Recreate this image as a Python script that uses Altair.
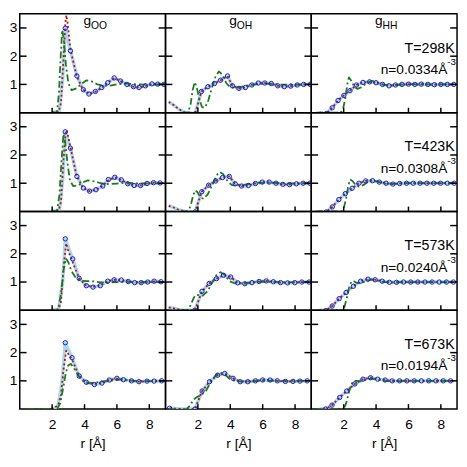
import altair as alt
import pandas as pd

# ---------------- axes / labels ----------------
X_DOMAIN = [0, 9]
Y_DOMAIN = [0, 3.5]
X_TICKS = [2, 4, 6, 8]
Y_TICKS = [1, 2, 3]
PAIRS = ["OO", "OH", "HH"]
TEMPS = ["298K", "423K", "573K", "673K"]
DENSITIES = ["0.0334", "0.0308", "0.0240", "0.0194"]
X_TITLE = "r [Å]"

# ---------------- data (r [Å], g) ----------------
# PRE_*: extra points of the light-blue experimental line, EXP_*: circles,
# RED_*: red dotted model, GRN_*: green dash-dot model
# ---- 298 K ----
PRE_OO_298 = [(2.0, 0.0), (2.45, 0.05), (2.65, 1.2)]
EXP_OO_298 = [(2.81, 2.99), (3.13, 2.19), (3.53, 1.30), (3.93, 0.81), (4.27, 0.66), (4.67, 0.75),
              (5.07, 0.89), (5.43, 1.06), (5.83, 1.23), (6.23, 1.12), (6.62, 1.00), (7.02, 0.92),
              (7.36, 0.89), (7.76, 0.95), (8.16, 1.02), (8.52, 1.01), (8.9, 1.0)]
RED_OO_298 = [(2.0, 0.0), (2.4, 0.03), (2.55, 0.35), (2.7, 1.9), (2.82, 3.2), (2.88, 3.45), (2.95, 3.2),
              (3.13, 2.25), (3.5, 1.32), (3.9, 0.82), (4.3, 0.66), (4.7, 0.75), (5.1, 0.9), (5.45, 1.07),
              (5.85, 1.22), (6.2, 1.13), (6.6, 1.0), (7.0, 0.92), (7.4, 0.89), (7.8, 0.95), (8.2, 1.02),
              (8.6, 1.02), (9.0, 1.0)]
GRN_OO_298 = [(2.0, 0.0), (2.3, 0.02), (2.42, 0.7), (2.52, 1.9), (2.62, 2.93), (2.72, 2.6), (2.85, 1.7),
              (3.0, 1.05), (3.2, 0.8), (3.5, 0.86), (3.8, 1.02), (4.1, 1.14), (4.4, 1.12), (4.8, 1.0),
              (5.2, 0.95), (5.6, 0.96), (6.1, 1.01), (6.6, 1.03), (7.2, 1.0), (8.0, 0.99), (9.0, 1.0)]

PRE_OH_298 = [(0.2, 0.38), (0.5, 0.27), (0.8, 0.13), (1.15, 0.02), (1.5, 0.0)]
EXP_OH_298 = [(1.82, -0.05), (2.22, 0.75), (2.62, 0.92), (3.02, 1.03), (3.4, 1.15), (3.83, 1.3),
              (4.13, 0.95), (4.53, 0.86), (4.93, 0.89), (5.33, 0.98), (5.73, 1.05), (6.13, 1.05),
              (6.53, 1.03), (6.93, 0.95), (7.33, 0.92), (7.73, 0.94), (8.13, 0.98), (8.53, 1.0), (8.93, 1.0)]
GRN_OH_298 = [(1.0, 0.0), (1.4, 0.0), (1.55, 0.3), (1.68, 0.8), (1.8, 1.08), (1.92, 0.92), (2.08, 0.5),
              (2.25, 0.2), (2.4, 0.17), (2.6, 0.35), (2.85, 0.85), (3.1, 1.3), (3.3, 1.46), (3.5, 1.35),
              (3.75, 1.05), (4.0, 0.9), (4.3, 0.88), (4.7, 0.92), (5.2, 0.98), (5.8, 1.02), (6.5, 1.02),
              (7.2, 0.99), (8.0, 0.99), (9.0, 1.0)]

PRE_HH_298 = [(0.5, 0.0)]
EXP_HH_298 = [(0.94, -0.03), (1.29, 0.17), (1.65, 0.43), (2.01, 0.61), (2.39, 0.78), (2.79, 0.98),
              (3.19, 1.07), (3.6, 1.09), (4.0, 1.06), (4.4, 1.0), (4.8, 0.95), (5.2, 0.98), (5.6, 1.0),
              (6.0, 1.01), (6.4, 1.0), (6.8, 1.01), (7.2, 1.0), (7.6, 0.99), (8.0, 1.0), (8.4, 1.0), (8.8, 1.0)]
GRN_HH_298 = [(0.3, 0.0), (1.8, 0.0), (1.95, 0.1), (2.1, 0.5), (2.22, 1.0), (2.32, 1.25), (2.45, 1.15),
              (2.65, 0.92), (2.85, 0.84), (3.1, 0.9), (3.4, 1.04), (3.75, 1.13), (4.1, 1.06), (4.5, 0.98),
              (5.0, 0.97), (5.5, 0.99), (6.2, 1.01), (7.0, 1.0), (9.0, 1.0)]

# ---- 423 K ----
PRE_OO_423 = [(2.0, 0.0), (2.45, 0.05), (2.65, 1.1)]
EXP_OO_423 = [(2.81, 2.82), (3.13, 2.24), (3.53, 1.24), (3.93, 0.83), (4.31, 0.72), (4.71, 0.77),
              (5.13, 0.9), (5.47, 1.13), (5.87, 1.21), (6.27, 1.12), (6.67, 0.98), (7.06, 0.92),
              (7.46, 0.92), (7.86, 0.99), (8.26, 1.02), (8.66, 1.01)]
RED_OO_423 = [(2.0, 0.0), (2.4, 0.03), (2.55, 0.35), (2.7, 1.8), (2.82, 2.7), (2.88, 2.88), (2.96, 2.75),
              (3.13, 2.28), (3.5, 1.28), (3.9, 0.84), (4.3, 0.72), (4.7, 0.77), (5.1, 0.9), (5.5, 1.12),
              (5.9, 1.2), (6.3, 1.11), (6.7, 0.98), (7.1, 0.92), (7.5, 0.92), (7.9, 0.99), (8.3, 1.02),
              (8.7, 1.01), (9.0, 1.0)]
GRN_OO_423 = [(2.0, 0.0), (2.3, 0.02), (2.45, 0.6), (2.58, 1.8), (2.7, 2.75), (2.8, 2.5), (2.95, 1.7),
              (3.1, 1.1), (3.3, 0.9), (3.6, 0.92), (3.9, 1.03), (4.2, 1.1), (4.6, 1.07), (5.0, 1.0),
              (5.5, 0.97), (6.0, 0.99), (6.6, 1.02), (7.2, 1.0), (8.0, 0.99), (9.0, 1.0)]

PRE_OH_423 = [(0.2, 0.2), (0.5, 0.14), (0.8, 0.06), (1.15, 0.01), (1.5, 0.0)]
EXP_OH_423 = [(1.82, -0.02), (2.24, 0.7), (2.66, 0.93), (3.1, 1.08), (3.52, 1.2), (3.94, 1.24),
              (4.3, 0.98), (4.7, 0.9), (5.12, 0.92), (5.55, 0.99), (5.97, 1.04), (6.4, 1.04),
              (6.82, 1.0), (7.24, 0.96), (7.66, 0.95), (8.08, 0.98), (8.5, 1.0), (8.92, 1.0)]
GRN_OH_423 = [(1.0, 0.0), (1.4, 0.0), (1.55, 0.2), (1.72, 0.6), (1.85, 0.75), (1.98, 0.68), (2.15, 0.5),
              (2.35, 0.45), (2.6, 0.6), (2.9, 0.95), (3.15, 1.28), (3.35, 1.4), (3.55, 1.33), (3.8, 1.1),
              (4.1, 0.93), (4.5, 0.92), (5.0, 0.96), (5.8, 1.02), (6.6, 1.01), (7.5, 0.99), (9.0, 1.0)]

PRE_HH_423 = [(0.5, 0.0)]
EXP_HH_423 = [(0.92, -0.02), (1.3, 0.16), (1.7, 0.42), (2.1, 0.63), (2.52, 0.82), (2.94, 1.0),
              (3.36, 1.08), (3.78, 1.09), (4.2, 1.04), (4.62, 1.0), (5.04, 0.97), (5.46, 0.99),
              (5.88, 1.0), (6.3, 1.0), (6.72, 1.0), (7.14, 1.0), (7.56, 1.0), (7.98, 1.0), (8.4, 1.0), (8.82, 1.0)]
GRN_HH_423 = [(0.3, 0.0), (1.85, 0.0), (2.0, 0.1), (2.15, 0.45), (2.28, 0.9), (2.4, 1.13), (2.55, 1.08),
              (2.75, 0.93), (2.95, 0.88), (3.2, 0.93), (3.5, 1.05), (3.8, 1.11), (4.1, 1.06), (4.5, 0.99),
              (5.0, 0.98), (5.6, 1.0), (6.5, 1.0), (9.0, 1.0)]

# ---- 573 K ----
PRE_OO_573 = [(2.0, 0.0), (2.4, 0.05), (2.65, 1.0)]
EXP_OO_573 = [(2.81, 2.53), (3.27, 1.82), (3.67, 1.13), (4.11, 0.87), (4.53, 0.82), (4.97, 0.87),
              (5.43, 1.03), (5.83, 1.08), (6.27, 1.07), (6.7, 1.02), (7.1, 0.98), (7.5, 0.98),
              (7.9, 1.0), (8.3, 1.03), (8.72, 1.01)]
RED_OO_573 = [(2.0, 0.0), (2.4, 0.03), (2.55, 0.3), (2.7, 1.5), (2.87, 2.37), (3.0, 2.1), (3.27, 1.7),
              (3.67, 1.13), (4.1, 0.88), (4.5, 0.83), (5.0, 0.88), (5.4, 1.02), (5.8, 1.08), (6.3, 1.06),
              (6.7, 1.02), (7.1, 0.98), (7.5, 0.98), (7.9, 1.0), (8.3, 1.02), (9.0, 1.0)]
GRN_OO_573 = [(2.0, 0.0), (2.37, 0.0), (2.55, 0.6), (2.7, 1.4), (2.85, 1.84), (3.0, 1.7), (3.2, 1.38),
              (3.5, 1.12), (3.8, 1.04), (4.2, 1.03), (4.6, 1.02), (5.0, 0.99), (5.5, 0.98), (6.0, 1.0),
              (6.6, 1.01), (7.5, 1.0), (9.0, 1.0)]

PRE_OH_573 = [(0.2, 0.1), (0.5, 0.07), (0.8, 0.03), (1.15, 0.0), (1.5, 0.0)]
EXP_OH_573 = [(1.82, 0.0), (2.25, 0.67), (2.7, 0.95), (3.15, 1.12), (3.58, 1.24), (4.02, 1.18),
              (4.46, 0.97), (4.9, 0.94), (5.34, 0.98), (5.78, 1.02), (6.22, 1.04), (6.66, 1.01),
              (7.1, 0.98), (7.54, 0.97), (7.98, 0.98), (8.42, 1.0), (8.86, 1.0)]
GRN_OH_573 = [(1.0, 0.0), (1.35, 0.0), (1.55, 0.18), (1.75, 0.45), (1.92, 0.55), (2.1, 0.52), (2.3, 0.52),
              (2.6, 0.68), (2.9, 1.0), (3.15, 1.25), (3.4, 1.35), (3.65, 1.25), (3.95, 1.03), (4.3, 0.95),
              (4.8, 0.96), (5.6, 1.01), (6.5, 1.01), (7.5, 0.99), (9.0, 1.0)]

PRE_HH_573 = [(0.5, 0.0)]
EXP_HH_573 = [(0.9, -0.01), (1.29, 0.15), (1.72, 0.41), (2.15, 0.63), (2.6, 0.85), (3.05, 1.03),
              (3.5, 1.1), (3.94, 1.08), (4.38, 1.03), (4.82, 0.99), (5.26, 0.99), (5.7, 1.0), (6.14, 1.0),
              (6.58, 1.0), (7.02, 1.0), (7.46, 1.0), (7.9, 1.0), (8.34, 1.0), (8.78, 1.0)]
GRN_HH_573 = [(0.3, 0.0), (1.9, 0.0), (2.05, 0.12), (2.2, 0.45), (2.35, 0.85), (2.5, 1.03), (2.65, 1.02),
              (2.85, 0.96), (3.1, 0.97), (3.45, 1.05), (3.75, 1.09), (4.1, 1.05), (4.5, 1.0), (5.0, 0.99),
              (6.0, 1.0), (9.0, 1.0)]

# ---- 673 K ----
PRE_OO_673 = [(1.95, 0.0), (2.35, 0.08), (2.6, 0.9)]
EXP_OO_673 = [(2.81, 2.35), (3.23, 1.82), (3.67, 1.17), (4.11, 0.95), (4.61, 0.87), (5.07, 0.92),
              (5.53, 1.03), (6.0, 1.09), (6.4, 1.04), (6.9, 1.0), (7.36, 0.97), (7.86, 0.99),
              (8.3, 0.99), (8.76, 1.0)]
RED_OO_673 = [(1.95, 0.0), (2.37, 0.13), (2.55, 0.5), (2.7, 1.4), (2.87, 2.07), (3.0, 1.95), (3.23, 1.75),
              (3.67, 1.17), (4.1, 0.95), (4.6, 0.88), (5.1, 0.93), (5.5, 1.03), (6.0, 1.08), (6.4, 1.04),
              (6.9, 1.0), (7.4, 0.97), (7.9, 0.99), (8.3, 0.99), (9.0, 1.0)]
GRN_OO_673 = [(0.5, 0.0), (2.3, 0.0), (2.5, 0.2), (2.7, 0.8), (2.85, 1.3), (3.0, 1.55), (3.15, 1.6),
              (3.35, 1.45), (3.6, 1.2), (3.9, 1.0), (4.2, 0.92), (4.6, 0.93), (5.0, 0.97), (5.5, 1.0),
              (6.0, 1.04), (6.5, 1.04), (7.0, 1.0), (8.0, 0.99), (9.0, 1.0)]

PRE_OH_673 = [(1.0, 0.0), (1.5, 0.0)]
EXP_OH_673 = [(0.25, 0.03), (1.82, 0.0), (2.26, 0.64), (2.72, 0.97), (3.22, 1.2), (3.66, 1.26),
              (4.17, 1.09), (4.61, 0.97), (5.08, 0.97), (5.55, 1.0), (6.0, 1.03), (6.46, 1.03),
              (6.9, 1.0), (7.4, 0.98), (7.87, 0.98), (8.3, 0.99), (8.75, 1.0)]
GRN_OH_673 = [(0.25, 0.0), (1.3, 0.0), (1.5, 0.12), (1.75, 0.35), (2.0, 0.45), (2.2, 0.48), (2.5, 0.65),
              (2.8, 0.95), (3.1, 1.2), (3.4, 1.3), (3.7, 1.2), (4.0, 1.05), (4.4, 0.98), (5.0, 0.98),
              (6.0, 1.01), (7.0, 1.0), (9.0, 1.0)]

PRE_HH_673 = [(0.5, 0.0)]
EXP_HH_673 = [(0.88, 0.0), (1.28, 0.14), (1.75, 0.41), (2.19, 0.64), (2.69, 0.89), (3.19, 1.06),
              (3.66, 1.11), (4.1, 1.06), (4.56, 1.03), (5.0, 1.0), (5.45, 1.0), (5.9, 1.0), (6.35, 1.0),
              (6.8, 1.0), (7.25, 1.0), (7.7, 1.0), (8.15, 1.0), (8.6, 1.0)]
GRN_HH_673 = [(0.3, 0.0), (2.0, 0.0), (2.15, 0.2), (2.3, 0.55), (2.45, 0.85), (2.6, 1.0), (2.8, 1.0),
              (3.1, 0.98), (3.4, 1.04), (3.7, 1.08), (4.0, 1.05), (4.5, 1.0), (5.0, 0.99), (6.0, 1.0),
              (9.0, 1.0)]

# (pre, circles, red model (None -> follows the experimental line), green model)
PANELS = {
    ("OO", "298K"): (PRE_OO_298, EXP_OO_298, RED_OO_298, GRN_OO_298),
    ("OH", "298K"): (PRE_OH_298, EXP_OH_298, None, GRN_OH_298),
    ("HH", "298K"): (PRE_HH_298, EXP_HH_298, None, GRN_HH_298),
    ("OO", "423K"): (PRE_OO_423, EXP_OO_423, RED_OO_423, GRN_OO_423),
    ("OH", "423K"): (PRE_OH_423, EXP_OH_423, None, GRN_OH_423),
    ("HH", "423K"): (PRE_HH_423, EXP_HH_423, None, GRN_HH_423),
    ("OO", "573K"): (PRE_OO_573, EXP_OO_573, RED_OO_573, GRN_OO_573),
    ("OH", "573K"): (PRE_OH_573, EXP_OH_573, None, GRN_OH_573),
    ("HH", "573K"): (PRE_HH_573, EXP_HH_573, None, GRN_HH_573),
    ("OO", "673K"): (PRE_OO_673, EXP_OO_673, RED_OO_673, GRN_OO_673),
    ("OH", "673K"): (PRE_OH_673, EXP_OH_673, None, GRN_OH_673),
    ("HH", "673K"): (PRE_HH_673, EXP_HH_673, None, GRN_HH_673),
}

# ---------------- style ----------------
W, H = 149, 101
FONT = "Liberation Sans"
C_EXP_LINE = "#a9d9ec"
C_CIRCLE = "#1a1ac8"
C_RED = "#b0141c"
C_GREEN = "#1b7a1b"
TICK_Y_LEN = 7
TICK_X_LEN = 5

# annotation anchors (data units)
TITLE_X, TITLE_Y, SUB_Y = 4.4, 3.1, 2.98
T_X, T_Y = 8.85, 2.13
N_X, N_Y, SUP_Y = 8.4, 1.37, 1.69


def df(points):
    return pd.DataFrame(points, columns=["r", "g"])


def make_panel(ri, ci):
    pair, temp = PAIRS[ci], TEMPS[ri]
    pre, exp, red, grn = PANELS[(pair, temp)]
    line_pts = sorted(pre + exp)
    if red is None:
        red = line_pts

    xs = alt.Scale(domain=X_DOMAIN, nice=False, zero=False)
    ys = alt.Scale(domain=Y_DOMAIN, nice=False, zero=False)
    if ri == len(TEMPS) - 1:
        xaxis = alt.Axis(values=X_TICKS, ticks=False, domain=False, grid=False,
                         labelPadding=9, title=X_TITLE, titlePadding=5)
    else:
        xaxis = None
    if ci == 0:
        yaxis = alt.Axis(values=Y_TICKS, ticks=False, domain=False, grid=False,
                         labelPadding=3, title=None)
    else:
        yaxis = None

    X = alt.X("r:Q", scale=xs, axis=xaxis)
    Y = alt.Y("g:Q", scale=ys, axis=yaxis)

    layers = [
        alt.Chart(df(line_pts)).mark_line(color=C_EXP_LINE, strokeWidth=3.5, strokeJoin="round",
                                          clip=True).encode(x=X, y=Y),
        alt.Chart(df(red)).mark_line(color=C_RED, strokeWidth=1.8, strokeDash=[2, 2.5], strokeJoin="round",
                                     clip=True).encode(x=X, y=Y),
        alt.Chart(df(grn)).mark_line(color=C_GREEN, strokeWidth=1.8, strokeDash=[7, 3, 2, 3],
                                     strokeJoin="round", clip=True).encode(x=X, y=Y),
        alt.Chart(df(exp)).mark_point(shape="circle", filled=False, color=C_CIRCLE, size=20,
                                      strokeWidth=1.0, opacity=1, clip=True).encode(x=X, y=Y),
    ]

    ytick = pd.DataFrame({"t": Y_TICKS})
    xtick = pd.DataFrame({"t": X_TICKS})
    Yt = alt.Y("t:Q", scale=ys, axis=yaxis)
    Xt = alt.X("t:Q", scale=xs, axis=xaxis)
    layers += [
        alt.Chart(ytick).mark_rule(color="black", strokeWidth=1.5).encode(
            y=Yt, x=alt.value(0), x2=alt.value(TICK_Y_LEN)),
        alt.Chart(ytick).mark_rule(color="black", strokeWidth=1.5).encode(
            y=Yt, x=alt.value(W - TICK_Y_LEN), x2=alt.value(W)),
        alt.Chart(xtick).mark_rule(color="black", strokeWidth=1.5).encode(
            x=Xt, y=alt.value(H), y2=alt.value(H - TICK_X_LEN)),
    ]

    one = pd.DataFrame({"k": [0]})
    if ri == 0:
        layers += [
            alt.Chart(one).mark_text(text="g", align="right", baseline="alphabetic", fontSize=14,
                                     font=FONT, color="black").encode(
                x=alt.datum(TITLE_X), y=alt.datum(TITLE_Y)),
            alt.Chart(one).mark_text(text=pair, align="left", baseline="alphabetic", fontSize=10.5,
                                     font=FONT, color="black").encode(
                x=alt.datum(TITLE_X), y=alt.datum(SUB_Y)),
        ]
    if ci == len(PAIRS) - 1:
        layers += [
            alt.Chart(one).mark_text(text="T=" + temp, align="right", baseline="alphabetic",
                                     fontSize=14.5, font=FONT, color="black").encode(
                x=alt.datum(T_X), y=alt.datum(T_Y)),
            alt.Chart(one).mark_text(text="n=" + DENSITIES[ri] + "Å", align="right",
                                     baseline="alphabetic", fontSize=14, font=FONT, color="black").encode(
                x=alt.datum(N_X), y=alt.datum(N_Y)),
            alt.Chart(one).mark_text(text="-3", align="left", baseline="alphabetic",
                                     fontSize=10, font=FONT, color="black").encode(
                x=alt.datum(N_X), y=alt.datum(SUP_Y)),
        ]
    return alt.layer(*layers).properties(width=W, height=H)


panels = [make_panel(ri, ci) for ri in range(len(TEMPS)) for ci in range(len(PAIRS))]

chart = alt.concat(*panels, columns=len(PAIRS), spacing=0, bounds="flush").properties(
    padding=0, background="white"
).configure_view(
    stroke="black", strokeWidth=1.5
).configure_axis(
    labelFont=FONT, titleFont=FONT, labelFontSize=14, titleFontSize=14,
    titleFontWeight="normal", labelColor="black", titleColor="black"
)

chart.save("out.html", embed_options={"renderer": "svg", "actions": False})
